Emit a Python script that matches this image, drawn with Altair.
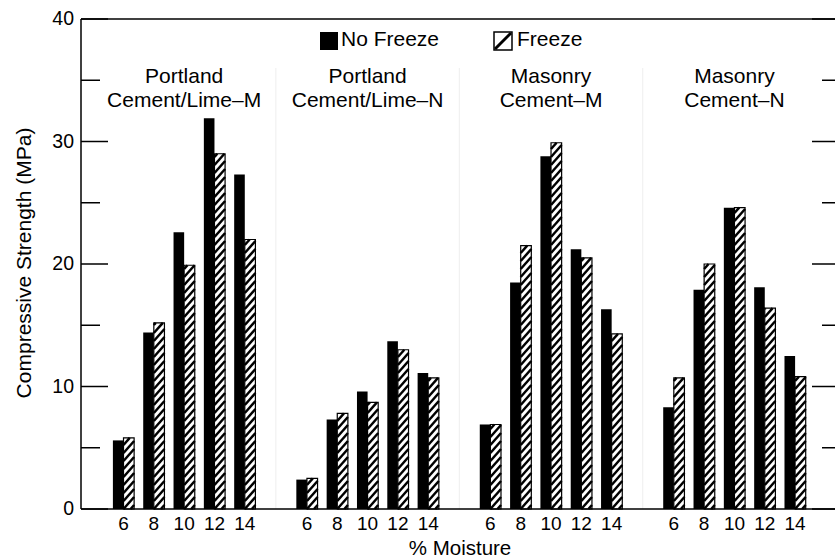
import altair as alt
import pandas as pd

# ---- data -------------------------------------------------------------
moisture = [6, 8, 10, 12, 14]
mortars = [
    "Portland\nCement/Lime–M",
    "Portland\nCement/Lime–N",
    "Masonry\nCement–M",
    "Masonry\nCement–N",
]
no_freeze = [
    [5.6, 14.4, 22.6, 31.9, 27.3],
    [2.4, 7.3, 9.6, 13.7, 11.1],
    [6.9, 18.5, 28.8, 21.2, 16.3],
    [8.3, 17.9, 24.6, 18.1, 12.5],
]
freeze = [
    [5.8, 15.2, 19.9, 29.0, 22.0],
    [2.5, 7.8, 8.7, 13.0, 10.7],
    [6.9, 21.5, 29.9, 20.5, 14.3],
    [10.7, 20.0, 24.6, 16.4, 10.8],
]
y_major = [0, 10, 20, 30, 40]
y_minor = [5, 15, 25, 35]
series_names = ["No Freeze", "Freeze"]
x_title = "% Moisture"
y_title = "Compressive Strength (MPa)"

# ---- layout -----------------------------------------------------------
W, H = 754, 490
GROUP_STEP = 6.05          # slots between the first bars of neighbouring groups
BAR_W = 0.35               # width of one bar, in slots
X_MIN, X_MAX = -1.402, 23.466
Y_MAX = 40
PX_Y = H / Y_MAX
FONT = "Liberation Sans"

rows = []
for g, name in enumerate(mortars):
    for i, m in enumerate(moisture):
        pos = g * GROUP_STEP + i
        rows.append(dict(mortar=name, moisture=str(m), pos=pos,
                         nf_x0=pos - BAR_W, nf_x1=pos, nf=no_freeze[g][i],
                         fr_x0=pos, fr_x1=pos + BAR_W, fr=freeze[g][i], zero=0))
df = pd.DataFrame(rows)

labels_df = df[df["moisture"] == str(moisture[2])][["mortar", "pos"]]
sep_df = pd.DataFrame({"sx": [g * GROUP_STEP + 4 + (GROUP_STEP - 4) / 2
                              for g in range(len(mortars) - 1)],
                       "sy0": 0, "sy1": 36})

# diagonal hatching inside the freeze bars, clipped to each bar
period = 8 / PX_Y
rise = 12 / PX_Y
hatch = []
for _, r in df.iterrows():
    x0, x1, v = r["fr_x0"], r["fr_x1"], r["fr"]
    k = -2
    while k * period < v:
        base = k * period
        ya, yb, xa, xb = base, base + rise, x0, x1
        if ya < 0:
            xa = x0 + (0 - base) / rise * (x1 - x0)
            ya = 0
        if yb > v:
            xb = x0 + (v - base) / rise * (x1 - x0)
            yb = v
        if yb > ya:
            hatch.append(dict(hx=xa, hy=ya, hx2=xb, hy2=yb))
        k += 1
hatch_df = pd.DataFrame(hatch)

x_scale = alt.Scale(domain=[X_MIN, X_MAX], nice=False, zero=False)
y_scale = alt.Scale(domain=[0, Y_MAX], nice=False)

# ---- bars -------------------------------------------------------------
black_bars = alt.Chart(df).mark_rect(color="black").encode(
    x=alt.X("nf_x0:Q", scale=x_scale, axis=None), x2="nf_x1:Q",
    y=alt.Y("nf:Q", scale=y_scale, axis=None), y2="zero:Q",
)

separators = alt.Chart(sep_df).mark_rule(color="#eeeeee", strokeWidth=1).encode(
    x=alt.X("sx:Q", scale=x_scale, axis=None),
    y=alt.Y("sy0:Q", scale=y_scale, axis=None), y2="sy1:Q",
)

freeze_fill = alt.Chart(df).mark_rect(fill="white").encode(
    x=alt.X("fr_x0:Q", scale=x_scale, axis=None), x2="fr_x1:Q",
    y=alt.Y("fr:Q", scale=y_scale, axis=None), y2="zero:Q",
)

hatching = alt.Chart(hatch_df).mark_rule(color="black", strokeWidth=2.5, strokeCap="butt").encode(
    x=alt.X("hx:Q", scale=x_scale, axis=None), x2="hx2:Q",
    y=alt.Y("hy:Q", scale=y_scale, axis=None), y2="hy2:Q",
)

freeze_outline = alt.Chart(df).mark_rect(fillOpacity=0, stroke="black", strokeWidth=1.2).encode(
    x=alt.X("fr_x0:Q", scale=x_scale, axis=None), x2="fr_x1:Q",
    y=alt.Y("fr:Q", scale=y_scale, axis=None), y2="zero:Q",
)

# ---- text -------------------------------------------------------------
moisture_labels = alt.Chart(df).mark_text(
    font=FONT, fontSize=19, color="black", baseline="alphabetic", align="center"
).encode(
    x=alt.X("pos:Q", scale=x_scale, axis=None),
    y=alt.value(H + 21),
    text="moisture:N",
)

group_labels = alt.Chart(labels_df).mark_text(
    font=FONT, fontSize=21, color="black", baseline="alphabetic", align="center",
    lineBreak="\n", lineHeight=24
).encode(
    x=alt.X("pos:Q", scale=x_scale, axis=None),
    y=alt.value(64),
    text="mortar:N",
)

major_df = pd.DataFrame({"v": y_major, "label": [str(v) for v in y_major]})
minor_df = pd.DataFrame({"v": y_minor})

y_labels = alt.Chart(major_df).mark_text(
    font=FONT, fontSize=19.5, color="black", align="right", baseline="middle"
).encode(
    y=alt.Y("v:Q", scale=y_scale, axis=None),
    x=alt.value(-7),
    text="label:N",
)

titles_df = pd.DataFrame({"x_title": [x_title], "y_title": [y_title]})
x_title_text = alt.Chart(titles_df).mark_text(
    font=FONT, fontSize=20.5, color="black", align="center", baseline="alphabetic"
).encode(x=alt.value(W / 2 + 2), y=alt.value(H + 46), text="x_title:N")
y_title_text = alt.Chart(titles_df).mark_text(
    font=FONT, fontSize=21, color="black", align="center", baseline="alphabetic", angle=270
).encode(x=alt.value(-50), y=alt.value(H / 2 - 1), text="y_title:N")

# ---- legend -----------------------------------------------------------
leg_nf = pd.DataFrame({"label": [series_names[0]]})
leg_fr = pd.DataFrame({"label": [series_names[1]]})
legend_nf_box = alt.Chart(leg_nf).mark_rect(color="black").encode(
    x=alt.value(239), x2=alt.value(257), y=alt.value(13), y2=alt.value(31))
legend_nf_text = alt.Chart(leg_nf).mark_text(
    font=FONT, fontSize=21, color="black", align="left", baseline="alphabetic"
).encode(x=alt.value(260), y=alt.value(27), text="label:N")
legend_fr_box = alt.Chart(leg_fr).mark_rect(fill="white", stroke="black", strokeWidth=1.5).encode(
    x=alt.value(413), x2=alt.value(431), y=alt.value(13), y2=alt.value(31))
legend_fr_slash = alt.Chart(leg_fr).mark_rule(color="black", strokeWidth=3).encode(
    x=alt.value(414), x2=alt.value(430), y=alt.value(30), y2=alt.value(14))
legend_fr_text = alt.Chart(leg_fr).mark_text(
    font=FONT, fontSize=21, color="black", align="left", baseline="alphabetic"
).encode(x=alt.value(436), y=alt.value(27), text="label:N")

# ---- frame and inward ticks ------------------------------------------
def tick_layer(data, x_from, x_to):
    return alt.Chart(data).mark_rule(color="black", strokeWidth=1.5).encode(
        y=alt.Y("v:Q", scale=y_scale, axis=None),
        x=alt.value(x_from), x2=alt.value(x_to),
    )


ticks = [
    tick_layer(major_df, 0, 27), tick_layer(minor_df, 0, 19),
    tick_layer(major_df, W - 23, W), tick_layer(minor_df, W - 13, W),
]
frame_top = alt.Chart(leg_nf).mark_rule(color="black", strokeWidth=1.5).encode(
    x=alt.value(0), x2=alt.value(W), y=alt.value(0))
frame_bottom = alt.Chart(leg_nf).mark_rule(color="black", strokeWidth=1.5).encode(
    x=alt.value(0), x2=alt.value(W), y=alt.value(H))
frame_left = alt.Chart(leg_nf).mark_rule(color="black", strokeWidth=1.5).encode(
    x=alt.value(0), y=alt.value(0), y2=alt.value(H))

chart = alt.layer(
    separators, black_bars, freeze_fill, hatching, freeze_outline,
    moisture_labels, group_labels, y_labels, x_title_text, y_title_text,
    legend_nf_box, legend_nf_text, legend_fr_box, legend_fr_slash, legend_fr_text,
    *ticks, frame_top, frame_bottom, frame_left,
).properties(
    width=W, height=H,
    padding={"left": 81, "top": 19, "right": 0, "bottom": 50},
    autosize=alt.AutoSizeParams(type="none"),
).configure(
    font=FONT, background="white",
    view=alt.ViewConfig(stroke=None),
)

chart.save("out.html", embed_options={"renderer": "svg", "actions": False})
